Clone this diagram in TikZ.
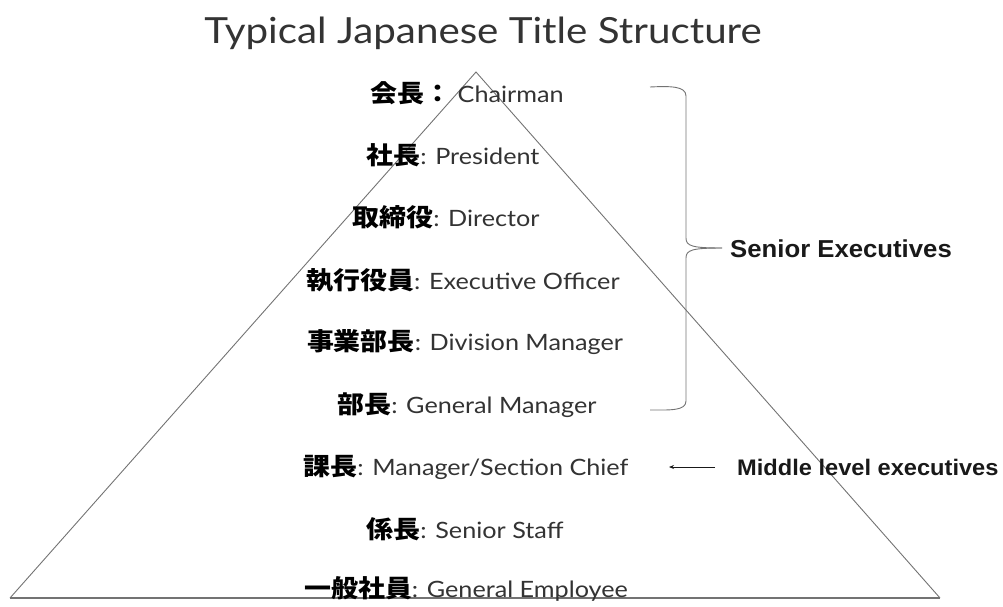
\documentclass[tikz,border=0pt]{standalone}
\usepackage{fontspec}
\usetikzlibrary{arrows.meta}
\setmainfont{Lato}[FakeStretch=1.12]
\newfontfamily\jpfont{Noto Sans CJK JP}[FakeStretch=1.1]
\newfontfamily\lblfont{Liberation Sans}[FakeStretch=1.05]
\begin{document}
\begin{tikzpicture}[x=1pt,y=-1pt,
  edge/.style={draw=black!55, line width=0.9pt},
  rank/.style={inner sep=0pt, anchor=center, text=black!80, font=\fontsize{22.5}{26}\selectfont},
  side/.style={inner sep=0pt, anchor=west, text=black!90, font=\lblfont\bfseries\fontsize{23}{26}\selectfont}]
\useasboundingbox (0,0) rectangle (1003,606);
\node[inner sep=0pt, text=black!80, font=\fontsize{36}{40}\selectfont] (title) at (483,33) {Typical Japanese Title Structure};
% pyramid
\coordinate (apex) at (476,72);
\coordinate (bl) at (10,598);
\coordinate (br) at (940,598);
\draw[edge] (bl) -- (apex) -- (br);
\draw[draw=black!55, line width=2pt] (bl) -- (br);
% ranks
\newcommand{\jp}[1]{{\jpfont\bfseries\fontsize{24.5}{26}\selectfont\color{black}#1}}
\node[rank] (r1) at (467,93) {\jp{会長：} Chairman};
\node[rank] (r2) at (453,155) {\jp{社長}: President};
\node[rank] (r3) at (446,217) {\jp{取締役}: Director};
\node[rank] (r4) at (463,280) {\jp{執行役員}: Executive Officer};
\node[rank] (r5) at (465,342) {\jp{事業部長}: Division Manager};
\node[rank] (r6) at (467,405) {\jp{部長}: General Manager};
\node[rank] (r7) at (466,467) {\jp{課長}: Manager/Section Chief};
\node[rank] (r8) at (465,529) {\jp{係長}: Senior Staff};
\node[rank] (r9) at (466,589) {\jp{一般社員}: General Employee};
% brace
\coordinate (bt) at (650,87);
\coordinate (bb) at (650,410);
\coordinate (bm) at (722,248);
\draw[edge] (bt) .. controls (670,86) and (686,86) .. (686,96)
  -- (686,238) .. controls (686,246) and (692,248) .. (bm);
\draw[edge] (bb) .. controls (670,410) and (686,411) .. (686,401)
  -- (686,258) .. controls (686,250) and (692,248) .. (bm);
\node[side, font=\lblfont\bfseries\fontsize{24.5}{26}\selectfont] (senior) at (730,249) {Senior Executives};
\node[side, font=\lblfont\bfseries\fontsize{22.5}{26}\selectfont] (middle) at (737,467) {Middle level executives};
\coordinate (arrtail) at (715,467);
\coordinate (arrtip) at (669,467);
\draw[black!90, line width=0.9pt, -{Stealth[length=5pt,width=4pt]}] (arrtail) -- (arrtip);
\end{tikzpicture}
\end{document}
